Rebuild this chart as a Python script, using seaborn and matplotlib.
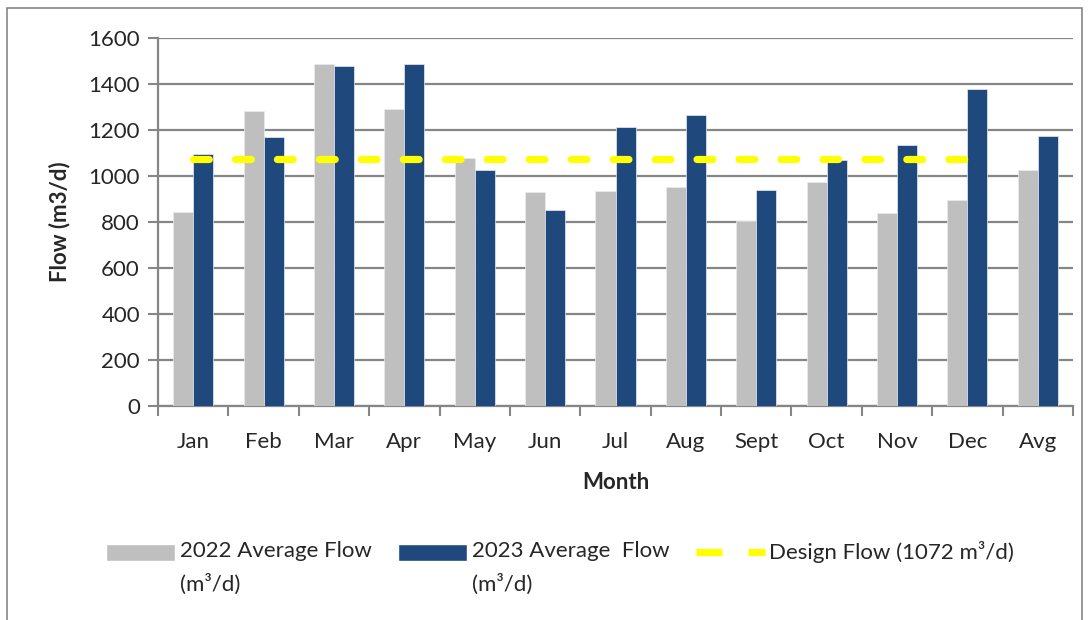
import pandas as pd
import seaborn as sns
import matplotlib.pyplot as plt
import numpy as np
from matplotlib.patches import Patch, Rectangle
from matplotlib.lines import Line2D
from matplotlib.legend_handler import HandlerPatch, HandlerLine2D


months = ['Jan', 'Feb', 'Mar', 'Apr', 'May', 'Jun', 'Jul', 'Aug', 'Sept', 'Oct', 'Nov', 'Dec', 'Avg']
flow_2022 = [843, 1282, 1487, 1291, 1078, 930, 935, 952, 804, 974, 839, 896, 1026]
flow_2023 = [1096, 1170, 1478, 1487, 1026, 852, 1213, 1265, 939, 1070, 1135, 1378, 1174]
design_flow = 1072
series = ['2022 Average Flow\n(m³/d)', '2023 Average  Flow\n(m³/d)']
design_label = 'Design Flow (1072 m³/d)\n '

df = pd.DataFrame({
    'Month': months * 2,
    'Flow': flow_2022 + flow_2023,
    'Series': [series[0]] * len(months) + [series[1]] * len(months),
})

sns.set_style('white')
plt.rcParams['font.family'] = ['Lato', 'DejaVu Sans']

fig = plt.figure(figsize=(10.9, 6.2), dpi=100)
ax = fig.add_axes([158 / 1090, 1 - 406 / 620, (1073 - 158) / 1090, (406 - 38) / 620])

sns.barplot(data=df, x='Month', y='Flow', hue='Series', order=months,
            palette=['#BFBFBF', '#1F497D'], saturation=1, width=0.57, gap=0,
            edgecolor='#E8ECF2', linewidth=0.5, ax=ax, legend=False, zorder=3)

# design flow line across the monthly categories (Jan..Dec)
ax.plot(np.arange(len(months) - 1), [design_flow] * (len(months) - 1),
        color='#FFFF00', lw=5.2, ls=(0, (2.19, 3.62)),
        dash_capstyle='round', zorder=4)

ax.set_ylim(0, 1600)
ax.set_xlim(-0.5, len(months) - 0.5)
ax.set_yticks(range(0, 1601, 200))
ax.grid(axis='y', color='#868686', lw=1.6, zorder=0)
ax.set_axisbelow(True)

for s in ['top', 'right']:
    ax.spines[s].set_visible(False)
for s in ['left', 'bottom']:
    ax.spines[s].set_color('#868686')
    ax.spines[s].set_linewidth(1.6)

ax.tick_params(axis='y', length=7, width=1.5, color='#868686', labelsize=16, pad=6, left=True)
ax.tick_params(axis='x', which='major', length=0, labelsize=16, pad=19)
ax.set_xticks(np.arange(-0.5, len(months), 1), minor=True)
ax.tick_params(axis='x', which='minor', length=7, width=1.5, color='#868686', bottom=True)

ax.set_ylabel('Flow (m3/d)', fontsize=16, fontweight='bold', labelpad=13)
ax.set_xlabel('Month', fontsize=16, fontweight='bold', labelpad=14)


# legend handles sit on the first text line
def top_patch(legend, orig_handle, xdescent, ydescent, width, height, fontsize):
    return Rectangle((-xdescent, -ydescent + 0.72 * fontsize), width, height)


class TopLine(HandlerLine2D):
    def create_artists(self, legend, orig_handle, xdescent, ydescent, width, height, fontsize, trans):
        arts = super().create_artists(legend, orig_handle, xdescent, ydescent, width, height, fontsize, trans)
        for a in arts:
            a.set_ydata(np.asarray(a.get_ydata()) + 0.72 * fontsize)
        return arts


handles = [
    Patch(facecolor='#BFBFBF', label=series[0]),
    Patch(facecolor='#1F497D', label=series[1]),
    Line2D([0], [0], color='#FFFF00', lw=5.2, ls=(0, (3.6, 3.6)), label=design_label),
]
leg = fig.legend(handles=handles, loc='center', bbox_to_anchor=(0.514, 1 - 568 / 620), ncol=3,
                 frameon=False, fontsize=16, handlelength=3.1, handleheight=0.77,
                 columnspacing=1.2, handletextpad=0.2,
                 handler_map={Patch: HandlerPatch(patch_func=top_patch), Line2D: TopLine()})
for t in leg.get_texts():
    t.set_linespacing(1.7)

fig.patches.append(Rectangle((7 / 1090, -0.1), (1082 - 7) / 1090, 1.1 - 8 / 620,
                             transform=fig.transFigure, fill=False,
                             edgecolor='#868686', lw=1.2))

fig.savefig('out.png', dpi=100)
